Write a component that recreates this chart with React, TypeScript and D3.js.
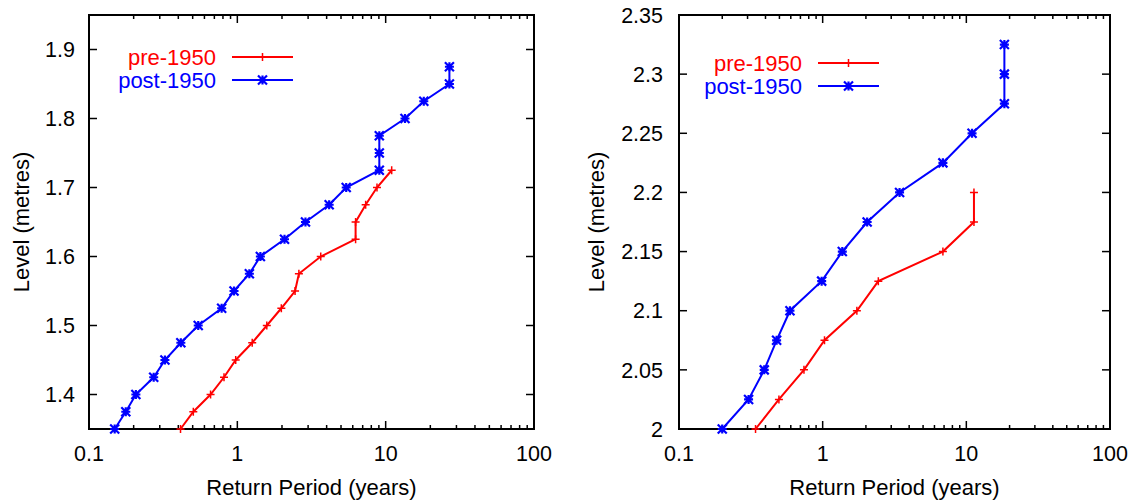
import React from "react";
import * as d3 from "d3";

const xTickValues = [0.1, 1, 10, 100];
const xTickLabels = ["0.1", "1", "10", "100"];

const leftYTicks = [1.4, 1.5, 1.6, 1.7, 1.8, 1.9];
const leftYLabels = ["1.4", "1.5", "1.6", "1.7", "1.8", "1.9"];
const rightYTicks = [2.0, 2.05, 2.1, 2.15, 2.2, 2.25, 2.3, 2.35];
const rightYLabels = ["2", "2.05", "2.1", "2.15", "2.2", "2.25", "2.3", "2.35"];

const seriesNames = ["pre-1950", "post-1950"];

const leftPreX = [0.414, 0.505, 0.66, 0.813, 0.975, 1.26, 1.58, 1.98, 2.45, 2.6, 3.65, 6.27, 6.27, 7.33, 8.74, 10.98];
const leftPreY = [1.35, 1.375, 1.4, 1.425, 1.45, 1.475, 1.5, 1.525, 1.55, 1.575, 1.6, 1.625, 1.65, 1.675, 1.7, 1.725];
const leftPostX = [0.149, 0.177, 0.207, 0.273, 0.325, 0.416, 0.545, 0.784, 0.95, 1.205, 1.43, 2.08, 2.88, 4.16, 5.42, 9.06, 9.06, 9.06, 13.5, 18.07, 26.9, 26.9];
const leftPostY = [1.35, 1.375, 1.4, 1.425, 1.45, 1.475, 1.5, 1.525, 1.55, 1.575, 1.6, 1.625, 1.65, 1.675, 1.7, 1.725, 1.75, 1.775, 1.8, 1.825, 1.85, 1.875];

const rightPreX = [0.341, 0.496, 0.741, 1.03, 1.73, 2.44, 6.87, 11.3, 11.3];
const rightPreY = [2.0, 2.025, 2.05, 2.075, 2.1, 2.125, 2.15, 2.175, 2.2];
const rightPostX = [0.2, 0.305, 0.392, 0.478, 0.592, 0.984, 1.37, 2.04, 3.43, 6.87, 10.96, 18.4, 18.4, 18.4];
const rightPostY = [2.0, 2.025, 2.05, 2.075, 2.1, 2.125, 2.15, 2.175, 2.2, 2.225, 2.25, 2.275, 2.3, 2.325];

const RED = "#ff0000";
const BLUE = "#0000ff";
const FONT = "'Liberation Sans', Arial, Helvetica, sans-serif";

function PlusMarker({ x, y, color }: { x: number; y: number; color: string }) {
  const s = 4;
  return (
    <path d={`M${x - s},${y}H${x + s}M${x},${y - s}V${y + s}`} stroke={color} strokeWidth={1.5} fill="none" />
  );
}

function StarMarker({ x, y, color }: { x: number; y: number; color: string }) {
  const s = 4.5;
  return (
    <path
      d={`M${x - s},${y}H${x + s}M${x},${y - s}V${y + s}M${x - s},${y - s}L${x + s},${y + s}M${x - s},${y + s}L${x + s},${y - s}`}
      stroke={color}
      strokeWidth={2.2}
      fill="none"
    />
  );
}

type PanelProps = {
  left: number;
  right: number;
  top: number;
  bottom: number;
  yDomain: [number, number];
  yTicks: number[];
  yLabels: string[];
  preX: number[];
  preY: number[];
  postX: number[];
  postY: number[];
  legendTextX: number;
  legendY: number;
  yTitleX: number;
  labelGap: number;
};

function Panel(p: PanelProps) {
  const x = d3.scaleLog().domain([0.1, 100]).range([p.left, p.right]);
  const y = d3.scaleLinear().domain(p.yDomain).range([p.bottom, p.top]);
  const line = d3
    .line<[number, number]>()
    .x((d) => x(d[0]))
    .y((d) => y(d[1]));
  const pre: [number, number][] = p.preX.map((v, i) => [v, p.preY[i]]);
  const post: [number, number][] = p.postX.map((v, i) => [v, p.postY[i]]);

  const minor: number[] = [];
  [0.1, 1, 10].forEach((base) => {
    for (let k = 2; k <= 9; k++) minor.push(base * k);
  });

  const major = 8;
  const minorLen = 4;
  const lx1 = p.legendTextX + 16;
  const lx2 = p.legendTextX + 77;
  const lxm = (lx1 + lx2) / 2;
  const cy = (p.top + p.bottom) / 2;

  return (
    <g>
      {xTickValues.map((v) => (
        <g key={"xt" + v}>
          <line x1={x(v)} x2={x(v)} y1={p.bottom} y2={p.bottom - major} stroke="#000" strokeWidth={1.5} />
          <line x1={x(v)} x2={x(v)} y1={p.top} y2={p.top + major} stroke="#000" strokeWidth={1.5} />
        </g>
      ))}
      {minor.map((v) => (
        <g key={"mt" + v}>
          <line x1={x(v)} x2={x(v)} y1={p.bottom} y2={p.bottom - minorLen} stroke="#000" strokeWidth={1.5} />
          <line x1={x(v)} x2={x(v)} y1={p.top} y2={p.top + minorLen} stroke="#000" strokeWidth={1.5} />
        </g>
      ))}
      {p.yTicks.map((v) => (
        <g key={"yt" + v}>
          <line x1={p.left} x2={p.left + major} y1={y(v)} y2={y(v)} stroke="#000" strokeWidth={1.5} />
          <line x1={p.right} x2={p.right - major} y1={y(v)} y2={y(v)} stroke="#000" strokeWidth={1.5} />
        </g>
      ))}
      <rect x={p.left} y={p.top} width={p.right - p.left} height={p.bottom - p.top} fill="none" stroke="#000" strokeWidth={2} />

      {xTickValues.map((v, i) => (
        <text key={"xl" + v} x={x(v)} y={461} textAnchor="middle" fontSize={21.5} fontFamily={FONT} fill="#000">
          {xTickLabels[i]}
        </text>
      ))}
      {p.yTicks.map((v, i) => (
        <text key={"yl" + v} x={p.left - p.labelGap} y={y(v)} dy="0.36em" textAnchor="end" fontSize={21.5} fontFamily={FONT} fill="#000">
          {p.yLabels[i]}
        </text>
      ))}
      <text x={(p.left + p.right) / 2} y={495} textAnchor="middle" fontSize={22} fontFamily={FONT} fill="#000">
        Return Period (years)
      </text>
      <text
        transform={`translate(${p.yTitleX},${cy}) rotate(-90)`}
        textAnchor="middle"
        fontSize={22}
        fontFamily={FONT}
        fill="#000"
      >
        Level (metres)
      </text>

      <path d={line(pre) || ""} stroke={RED} strokeWidth={2} fill="none" />
      {pre.map((d, i) => (
        <PlusMarker key={"pm" + i} x={x(d[0])} y={y(d[1])} color={RED} />
      ))}
      <path d={line(post) || ""} stroke={BLUE} strokeWidth={2} fill="none" />
      {post.map((d, i) => (
        <StarMarker key={"sm" + i} x={x(d[0])} y={y(d[1])} color={BLUE} />
      ))}

      <text x={p.legendTextX} y={p.legendY} dy="0.36em" textAnchor="end" fontSize={22} fontFamily={FONT} fill={RED}>
        {seriesNames[0]}
      </text>
      <line x1={lx1} x2={lx2} y1={p.legendY} y2={p.legendY} stroke={RED} strokeWidth={2} />
      <PlusMarker x={lxm} y={p.legendY} color={RED} />
      <text x={p.legendTextX} y={p.legendY + 23} dy="0.36em" textAnchor="end" fontSize={22} fontFamily={FONT} fill={BLUE}>
        {seriesNames[1]}
      </text>
      <line x1={lx1} x2={lx2} y1={p.legendY + 23} y2={p.legendY + 23} stroke={BLUE} strokeWidth={2} />
      <StarMarker x={lxm} y={p.legendY + 23} color={BLUE} />
    </g>
  );
}

export default function App() {
  return (
    <svg
      width={1133}
      height={500}
      style={{ position: "absolute", left: 0, top: 0, background: "#fff" }}
    >
      <rect width={1133} height={500} fill="#fff" />
      <Panel
        left={89}
        right={534}
        top={15}
        bottom={429}
        yDomain={[1.35, 1.95]}
        yTicks={leftYTicks}
        yLabels={leftYLabels}
        preX={leftPreX}
        preY={leftPreY}
        postX={leftPostX}
        postY={leftPostY}
        legendTextX={216}
        legendY={57}
        yTitleX={29}
        labelGap={14}
      />
      <Panel
        left={679}
        right={1110}
        top={15}
        bottom={429}
        yDomain={[2.0, 2.35]}
        yTicks={rightYTicks}
        yLabels={rightYLabels}
        preX={rightPreX}
        preY={rightPreY}
        postX={rightPostX}
        postY={rightPostY}
        legendTextX={802}
        legendY={63}
        yTitleX={604}
        labelGap={16}
      />
    </svg>
  );
}
